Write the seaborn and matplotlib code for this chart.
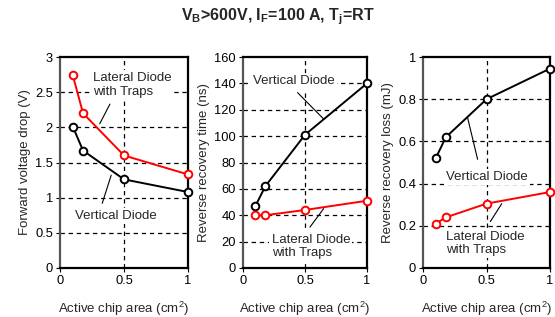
import numpy as np
import pandas as pd
import matplotlib
matplotlib.use("Agg")
import matplotlib.pyplot as plt
import seaborn as sns

# data
area = [0.1, 0.18, 0.5, 1.0]
vf_vertical = [2.01, 1.67, 1.26, 1.08]
vf_lateral = [2.74, 2.20, 1.60, 1.33]
trr_vertical = [47, 62, 101, 140]
trr_lateral = [40, 40, 44, 51]
err_vertical = [0.52, 0.62, 0.80, 0.945]
err_lateral = [0.21, 0.24, 0.305, 0.36]

series_names = ["Vertical Diode", "Lateral Diode\nwith Traps"]

sns.set_style("white")
plt.rcParams['font.family'] = ['Liberation Sans', 'DejaVu Sans']
plt.rcParams['mathtext.default'] = 'regular'

fig = plt.figure(figsize=(5.55, 3.17), dpi=100)

panels = [
    dict(vert=vf_vertical, lat=vf_lateral, ylabel="Forward voltage drop (V)",
         ylim=(0, 3), yticks=[0, 0.5, 1, 1.5, 2, 2.5, 3],
         ylabels=["0", "0.5", "1", "1.5", "2", "2.5", "3"],
         box=[60, 128]),
    dict(vert=trr_vertical, lat=trr_lateral, ylabel="Reverse recovery time (ns)",
         ylim=(0, 160), yticks=list(range(0, 161, 20)),
         ylabels=[str(v) for v in range(0, 161, 20)],
         box=[243, 124]),
    dict(vert=err_vertical, lat=err_lateral, ylabel="Reverse recovery loss (mJ)",
         ylim=(0, 1), yticks=[0, 0.2, 0.4, 0.6, 0.8, 1],
         ylabels=["0", "0.2", "0.4", "0.6", "0.8", "1"],
         box=[423, 127]),
]

# text label positions and leader lines (data coords): (text xy, line start, line end)
labels = [
    {"Lateral Diode\nwith Traps": ((0.26, 2.60), (0.31, 2.05), (0.39, 2.33)),
     "Vertical Diode": ((0.12, 0.74), (0.33, 0.92), (0.40, 1.32))},
    {"Vertical Diode": ((0.08, 141.5), (0.44, 133), (0.65, 113)),
     "Lateral Diode\nwith Traps": ((0.23, 16.5), (0.54, 31), (0.65, 45))},
    {"Vertical Diode": ((0.18, 0.433), (0.43, 0.515), (0.35, 0.715)),
     "Lateral Diode\nwith Traps": ((0.18, 0.117), (0.53, 0.22), (0.62, 0.305))},
]

for p, lab in zip(panels, labels):
    left, width = p["box"]
    ax = fig.add_axes([left / 555, 49 / 317, width / 555, 211 / 317])
    df = pd.DataFrame({
        "area": area * 2,
        "value": p["vert"] + p["lat"],
        "diode": [series_names[0]] * 4 + [series_names[1]] * 4,
    })
    # dashed grid
    for yv in p["yticks"][1:-1]:
        ax.axhline(yv, color="black", lw=0.9, ls=(0, (3.5, 3)), zorder=0)
    ax.axvline(0.5, color="black", lw=0.9, ls=(0, (3.5, 3)), zorder=0)

    sns.lineplot(data=df, x="area", y="value", hue="diode",
                 palette={series_names[0]: "black", series_names[1]: "#ff0000"},
                 marker="o", markersize=5.5, markerfacecolor="white",
                 markeredgewidth=1.4, linewidth=1.4, legend=False, ax=ax,
                 zorder=3, clip_on=False)
    for c in ax.lines:
        c.set_markeredgecolor(c.get_color())

    ax.set_xlim(0, 1)
    ax.set_ylim(*p["ylim"])
    ax.set_xticks([0, 0.5, 1])
    ax.set_xticklabels(["0", "0.5", "1"])
    ax.set_yticks(p["yticks"])
    ax.set_yticklabels(p["ylabels"])
    ax.tick_params(axis="both", labelsize=9.3, length=3, width=0.8,
                   direction="out", pad=2, bottom=True, left=True, colors="black")
    ax.set_xlabel("Active chip area (cm$^2$)", fontsize=9.5, labelpad=9)
    ax.set_ylabel(p["ylabel"], fontsize=9.5, labelpad=3)
    for s in ax.spines.values():
        s.set_color("black")
        s.set_linewidth(1.6)
    ax.spines["left"].set_color("#555555")

    for txt, (txy, l0, l1) in lab.items():
        ax.text(txy[0], txy[1], txt, fontsize=9.5, ha="left", va="center",
                linespacing=1.15, zorder=2,
                bbox=dict(facecolor="white", edgecolor="none", pad=1.5))
        ax.annotate("", xy=l1, xytext=l0,
                    arrowprops=dict(arrowstyle="-", color="black", lw=0.8,
                                    shrinkA=0, shrinkB=0), zorder=4)

fig.text(0.5, 0.947, "V$_B$>600V, I$_F$=100 A, T$_j$=RT", ha="center",
         va="center", fontsize=11.5, fontweight="bold")

fig.savefig("out.png", dpi=100)
